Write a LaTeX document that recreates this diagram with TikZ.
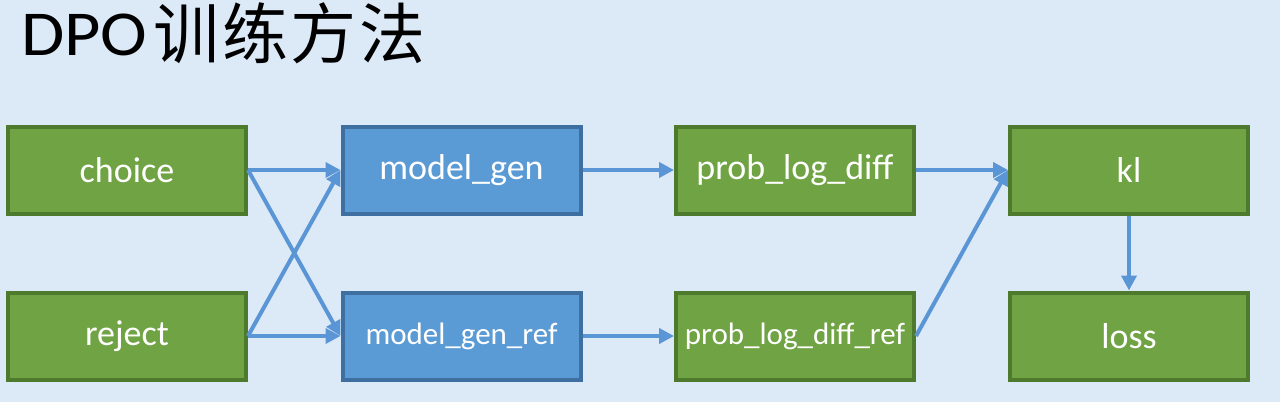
\documentclass[tikz,border=0pt]{standalone}
\usepackage{fontspec}
\setmainfont{Carlito}
\newfontfamily\cjk{Noto Sans CJK SC}
\usetikzlibrary{arrows.meta}
\definecolor{bg}{HTML}{DCE9F6}
\definecolor{gfill}{HTML}{6FA343}
\definecolor{gline}{HTML}{4E7A2E}
\definecolor{bfill}{HTML}{5B9BD5}
\definecolor{bline}{HTML}{3E6FA0}
\definecolor{arr}{HTML}{5A96D6}
\begin{document}
\begin{tikzpicture}[x=1pt,y=-1pt,
  gbox/.style={draw=gline,fill=gfill,line width=4pt,minimum width=238pt,minimum height=87pt,inner sep=0pt,text=white,font=\fontsize{36}{42}\selectfont},
  bbox/.style={gbox,draw=bline,fill=bfill},
  smalltxt/.style={font=\fontsize{31}{36}\selectfont},
  conn/.style={draw=arr,line width=4pt,-{Triangle[length=15pt,width=15pt]}}]
\fill[bg] (0,0) rectangle (1280,402);
\useasboundingbox (0,0) rectangle (1280,402);
\node[anchor=base west,inner sep=0pt,font=\fontsize{64}{70}\selectfont] (title) at (21,55) {\scalebox{1.1}[1]{DPO}\hspace{6pt}{\cjk\fontsize{66}{70}\selectfont\addfontfeatures{LetterSpace=4}\raisebox{-3pt}{训练方法}}};
\node[gbox] (choice) at (127,170) {choice};
\node[gbox] (reject) at (127,336) {reject};
\node[bbox] (mg) at (461.5,170) {model\_gen};
\node[bbox,smalltxt] (mgr) at (461.5,336) {model\_gen\_ref};
\node[gbox] (pld) at (795,170) {prob\_log\_diff};
\node[gbox,smalltxt] (pldr) at (795,336) {prob\_log\_diff\_ref};
\node[gbox] (kl) at (1129,170) {kl};
\node[gbox] (loss) at (1129,336) {loss};
\draw[conn] (choice.east) -- (mg.west);
\draw[conn] (choice.east) -- (mgr.west);
\draw[conn] (reject.east) -- (mg.west);
\draw[conn] (reject.east) -- (mgr.west);
\draw[conn] (mg) -- (pld);
\draw[conn] (mgr) -- (pldr);
\draw[conn] (pld.east) -- (kl.west);
\draw[conn] (pldr.east) -- (kl.west);
\draw[conn] (kl) -- (loss);
\end{tikzpicture}
\end{document}
